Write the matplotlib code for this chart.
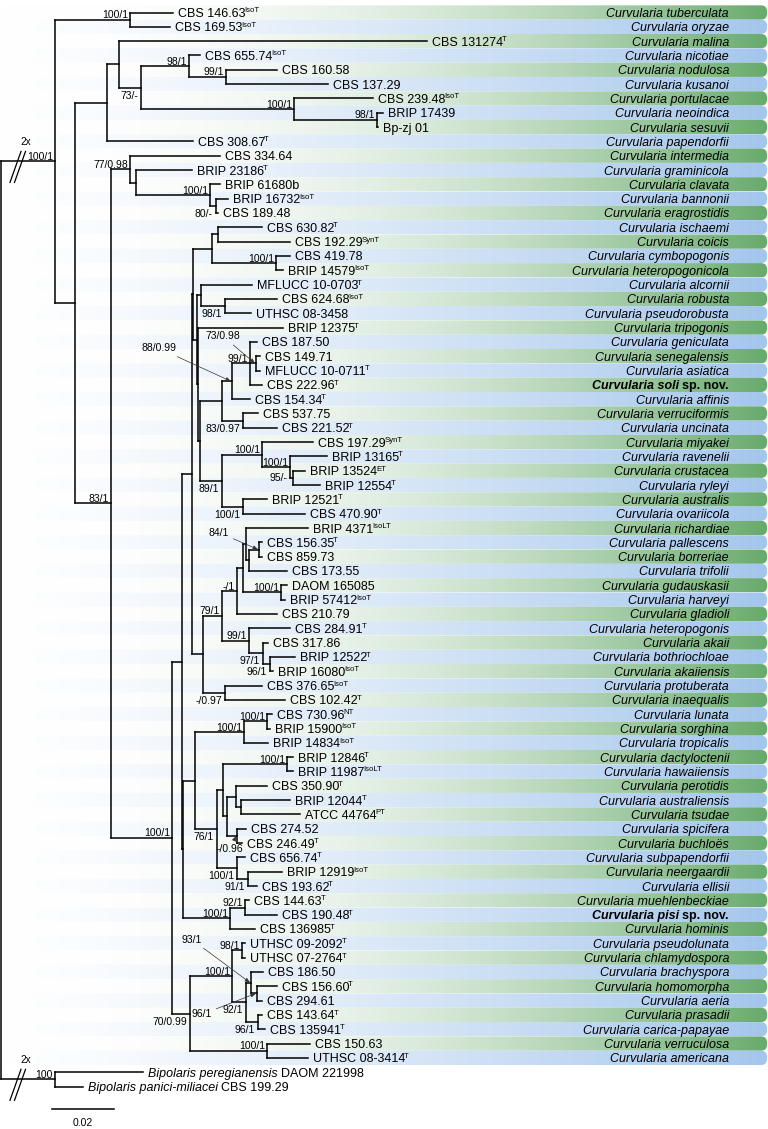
import numpy as np
import matplotlib
matplotlib.use('Agg')
import matplotlib.pyplot as plt
import matplotlib.transforms as mtransforms
from matplotlib.path import Path
from matplotlib.patches import PathPatch
from matplotlib.collections import LineCollection

plt.rcParams['font.family'] = ['Liberation Sans', 'DejaVu Sans']

W_PX, H_PX, DPI = 768, 1129, 100
ROW_PX = 14.32        # height of one taxon row in pixels
TOP_PX = 12.5         # centre of first row
PX_PER_UNIT = 3083.0  # 0.02 subst./site = 61.7 px

# ---------------- leaves, top to bottom ----------------
leaf_keys = ['tuberculata', 'oryzae', 'malina', 'nicotiae', 'nodulosa', 'kusanoi', 'portulacae',
             'neoindica', 'sesuvii', 'papendorfii', 'intermedia', 'graminicola', 'clavata', 'bannonii',
             'eragrostidis', 'ischaemi', 'coicis', 'cymbopogonis', 'heteropogonicola', 'alcornii',
             'robusta', 'pseudorobusta', 'tripogonis', 'geniculata', 'senegalensis', 'asiatica', 'soli',
             'affinis', 'verruciformis', 'uncinata', 'miyakei', 'ravenelii', 'crustacea', 'ryleyi',
             'australis', 'ovariicola', 'richardiae', 'pallescens', 'borreriae', 'trifolii',
             'gudauskasii', 'harveyi', 'gladioli', 'heteropogonis', 'akaii', 'bothriochloae',
             'akaiiensis', 'protuberata', 'inaequalis', 'lunata', 'sorghina', 'tropicalis',
             'dactyloctenii', 'hawaiiensis', 'perotidis', 'australiensis', 'tsudae', 'spicifera',
             'buchloes', 'subpapendorfii', 'neergaardii', 'ellisii', 'muehlenbeckiae', 'pisi', 'hominis',
             'pseudolunata', 'chlamydospora', 'brachyspora', 'homomorpha', 'aeria', 'prasadii',
             'carica-papayae', 'verruculosa', 'americana', 'peregianensis', 'panici-miliacei']

leaf_strain = ['CBS 146.63', 'CBS 169.53', 'CBS 131274', 'CBS 655.74', 'CBS 160.58', 'CBS 137.29',
               'CBS 239.48', 'BRIP 17439', 'Bp-zj 01', 'CBS 308.67', 'CBS 334.64', 'BRIP 23186',
               'BRIP 61680b', 'BRIP 16732', 'CBS 189.48', 'CBS 630.82', 'CBS 192.29', 'CBS 419.78',
               'BRIP 14579', 'MFLUCC 10-0703', 'CBS 624.68', 'UTHSC 08-3458', 'BRIP 12375', 'CBS 187.50',
               'CBS 149.71', 'MFLUCC 10-0711', 'CBS 222.96', 'CBS 154.34', 'CBS 537.75', 'CBS 221.52',
               'CBS 197.29', 'BRIP 13165', 'BRIP 13524', 'BRIP 12554', 'BRIP 12521', 'CBS 470.90',
               'BRIP 4371', 'CBS 156.35', 'CBS 859.73', 'CBS 173.55', 'DAOM 165085', 'BRIP 57412',
               'CBS 210.79', 'CBS 284.91', 'CBS 317.86', 'BRIP 12522', 'BRIP 16080', 'CBS 376.65',
               'CBS 102.42', 'CBS 730.96', 'BRIP 15900', 'BRIP 14834', 'BRIP 12846', 'BRIP 11987',
               'CBS 350.90', 'BRIP 12044', 'ATCC 44764', 'CBS 274.52', 'CBS 246.49', 'CBS 656.74',
               'BRIP 12919', 'CBS 193.62', 'CBS 144.63', 'CBS 190.48', 'CBS 136985', 'UTHSC 09-2092',
               'UTHSC 07-2764', 'CBS 186.50', 'CBS 156.60', 'CBS 294.61', 'CBS 143.64', 'CBS 135941',
               'CBS 150.63', 'UTHSC 08-3414', 'DAOM 221998', 'CBS 199.29']

leaf_type = ['IsoT', 'IsoT', 'T', 'IsoT', '', '', 'IsoT', '', '', 'T', '', 'T', '', 'IsoT', '', 'T',
             'SynT', '', 'IsoT', 'T', 'IsoT', '', 'T', '', '', 'T', 'T', 'T', '', 'T', 'SynT', 'T', 'ET',
             'T', 'T', 'T', 'IsoLT', 'T', '', '', '', 'IsoT', '', 'T', '', 'T', 'IsoT', 'IsoT', 'T', 'NT',
             'IsoT', 'IsoT', 'T', 'IsoLT', 'T', 'T', 'PT', '', 'T', 'T', 'IsoT', 'T', 'T', 'T', 'T', 'T',
             'T', '', 'T', '', 'T', 'T', '', 'T', '', '']

species = ['tuberculata', 'oryzae', 'malina', 'nicotiae', 'nodulosa', 'kusanoi', 'portulacae',
           'neoindica', 'sesuvii', 'papendorfii', 'intermedia', 'graminicola', 'clavata', 'bannonii',
           'eragrostidis', 'ischaemi', 'coicis', 'cymbopogonis', 'heteropogonicola', 'alcornii',
           'robusta', 'pseudorobusta', 'tripogonis', 'geniculata', 'senegalensis', 'asiatica', 'soli',
           'affinis', 'verruciformis', 'uncinata', 'miyakei', 'ravenelii', 'crustacea', 'ryleyi',
           'australis', 'ovariicola', 'richardiae', 'pallescens', 'borreriae', 'trifolii',
           'gudauskasii', 'harveyi', 'gladioli', 'heteropogonis', 'akaii', 'bothriochloae',
           'akaiiensis', 'protuberata', 'inaequalis', 'lunata', 'sorghina', 'tropicalis',
           'dactyloctenii', 'hawaiiensis', 'perotidis', 'australiensis', 'tsudae', 'spicifera',
           'buchloës', 'subpapendorfii', 'neergaardii', 'ellisii', 'muehlenbeckiae', 'pisi', 'hominis',
           'pseudolunata', 'chlamydospora', 'brachyspora', 'homomorpha', 'aeria', 'prasadii',
           'carica-papayae', 'verruculosa', 'americana']
new_species = ['soli', 'pisi']
outgroup_names = ['Bipolaris peregianensis', 'Bipolaris panici-miliacei']

# distance from root to each tip (substitutions / site)
leaf_depth = [0.0558, 0.0548, 0.1382, 0.0646, 0.0895, 0.1061, 0.1207, 0.1239, 0.1223, 0.0623,
              0.0710, 0.0620, 0.0710, 0.0736, 0.0704, 0.0847, 0.0938, 0.0938, 0.0915, 0.0814,
              0.0895, 0.0811, 0.0915, 0.0830, 0.0840, 0.0840, 0.0847, 0.0808, 0.0834, 0.0895,
              0.1012, 0.1058, 0.0986, 0.1035, 0.0863, 0.0986, 0.0996, 0.0847, 0.0847, 0.0928,
              0.0928, 0.0921, 0.0895, 0.0938, 0.0866, 0.0954, 0.0882, 0.0847, 0.0921, 0.0879,
              0.0873, 0.0866, 0.0947, 0.0947, 0.0863, 0.0938, 0.0970, 0.0795, 0.0782, 0.0792,
              0.0912, 0.0830, 0.0805, 0.0895, 0.0824, 0.0792, 0.0792, 0.0850, 0.0895, 0.0847,
              0.0847, 0.0856, 0.1002, 0.0996, 0.0461, 0.0266]

# ---------------- internal nodes ----------------
node_keys = ['root', 'crown', 'bip', 'A', 'B', 'C', 'D', 'E', 'F', 'H', 'G', 'I', 'J', 'K', 'L', 'M',
             'N', 'O', 'Pout', 'Tout', 'Tin', 'U', 'U1', 'U2', 'Wout', 'Alc', 'RP', 'Win', 'S6', 'S4',
             'S3', 'S2', 'S1', 'VU', 'S5', 'MY', 'RC', 'CR', 'AO', 'V', 'P8', 'P6', 'P5', 'P3', 'P2',
             'P1', 'P4', 'P7', 'P7b', 'P7c', 'P9', 'Pin', 'R', 'LU', 'LS', 'S', 'Sup', 'DH', 'X',
             'PAT', 'AT', 'SB', 'SP', 'NE', 'MU', 'MP', 'Q', 'Q1', 'PC', 'H3', 'H2', 'H1', 'PCP', 'VA']

node_children = [
    ['crown', 'bip'], ['A', 'B'], ['peregianensis', 'panici-miliacei'], ['tuberculata', 'oryzae'],
    ['C', 'J'], ['D', 'papendorfii'], ['malina', 'E'], ['F', 'G'], ['nicotiae', 'H'],
    ['nodulosa', 'kusanoi'], ['portulacae', 'I'], ['neoindica', 'sesuvii'], ['K', 'O'],
    ['intermedia', 'L'], ['graminicola', 'M'], ['clavata', 'N'], ['bannonii', 'eragrostidis'],
    ['Pout', 'Q'], ['Tout', 'Pin'], ['Tin', 'V'], ['U', 'Wout'], ['U1', 'U2'], ['ischaemi', 'coicis'],
    ['cymbopogonis', 'heteropogonicola'], ['Alc', 'Win'], ['alcornii', 'RP'],
    ['robusta', 'pseudorobusta'], ['tripogonis', 'S6'], ['S4', 'S5'], ['S3', 'VU'],
    ['S2', 'affinis'], ['geniculata', 'S1', 'soli'], ['senegalensis', 'asiatica'],
    ['verruciformis', 'uncinata'], ['MY', 'AO'], ['miyakei', 'RC'], ['ravenelii', 'CR'],
    ['crustacea', 'ryleyi'], ['australis', 'ovariicola'], ['P8', 'P9'], ['P6', 'P7'],
    ['P5', 'gladioli'], ['P3', 'P4'], ['richardiae', 'P2'], ['P1', 'trifolii'],
    ['pallescens', 'borreriae'], ['gudauskasii', 'harveyi'], ['heteropogonis', 'P7b'],
    ['akaii', 'P7c'], ['bothriochloae', 'akaiiensis'], ['protuberata', 'inaequalis'], ['R', 'MU'],
    ['LU', 'S'], ['LS', 'tropicalis'], ['lunata', 'sorghina'], ['Sup', 'SP'], ['DH', 'X'],
    ['dactyloctenii', 'hawaiiensis'], ['PAT', 'SB'], ['perotidis', 'AT'], ['australiensis', 'tsudae'],
    ['spicifera', 'buchloes'], ['subpapendorfii', 'NE'], ['neergaardii', 'ellisii'],
    ['MP', 'hominis'], ['muehlenbeckiae', 'pisi'], ['Q1', 'VA'], ['PC', 'H3'],
    ['pseudolunata', 'chlamydospora'], ['H2', 'PCP'], ['brachyspora', 'H1'], ['homomorpha', 'aeria'],
    ['prasadii', 'carica-papayae'], ['verruculosa', 'americana']]

node_depth = [0.0, 0.0175, 0.0175, 0.0418, 0.0240, 0.0344, 0.0383, 0.0454, 0.0610, 0.0730, 0.0950,
              0.1220, 0.0357, 0.0418, 0.0438, 0.0678, 0.0697, 0.0555, 0.0587, 0.0620, 0.0623, 0.0684,
              0.0704, 0.0892, 0.0636, 0.0649, 0.0727, 0.0639, 0.0646, 0.0717, 0.0749, 0.0808, 0.0827,
              0.0785, 0.0717, 0.0847, 0.0938, 0.0947, 0.0785, 0.0655, 0.0717, 0.0766, 0.0785, 0.0795,
              0.0805, 0.0837, 0.0908, 0.0805, 0.0850, 0.0873, 0.0727, 0.0589, 0.0629, 0.0788, 0.0863,
              0.0701, 0.0720, 0.0928, 0.0733, 0.0762, 0.0779, 0.0766, 0.0766, 0.0801, 0.0743, 0.0792,
              0.0613, 0.0749, 0.0782, 0.0795, 0.0811, 0.0830, 0.0834, 0.0863]

support = {'crown': '100/1', 'bip': '100', 'A': '100/1', 'E': '73/-', 'F': '98/1', 'H': '99/1',
           'G': '100/1', 'I': '98/1', 'J': '83/1', 'K': '77/0.98', 'M': '100/1', 'N': '80/-',
           'O': '100/1', 'U2': '100/1', 'RP': '98/1', 'S3': '88/0.99', 'S2': '99/1', 'S1': '73/0.98',
           'VU': '83/0.97', 'S5': '89/1', 'MY': '100/1', 'RC': '100/1', 'CR': '95/-', 'AO': '100/1',
           'P8': '79/1', 'P6': '-/1', 'P1': '84/1', 'P4': '100/1', 'P7': '99/1', 'P7b': '97/1',
           'P7c': '96/1', 'P9': '-/0.97', 'LU': '100/1', 'LS': '100/1', 'S': '76/1', 'DH': '100/1',
           'SB': '-/0.96', 'SP': '100/1', 'NE': '91/1', 'MU': '100/1', 'MP': '92/1', 'Q': '70/0.99',
           'Q1': '100/1', 'PC': '98/1', 'H3': '92/1', 'H2': '93/1', 'H1': '96/1', 'PCP': '96/1',
           'VA': '100/1'}

# ---------------- label placement (style) ----------------
below = ['E', 'N', 'RP', 'VU', 'S5', 'AO', 'P7b', 'P7c', 'P9', 'S', 'SP', 'NE', 'H3', 'Q', 'PCP']
beside = ['CR']
arrowed = {'S3': (-72, 33), 'S1': (-32, 27), 'P1': (-39, 17), 'H2': (-58, 43),
           'H1': (-54, -21), 'SB': (-6, -13)}   # label offset from node, px

STRAIN_FS, SUPER_FS, SUPPORT_FS = 9, 5.6, 7.5
LW = 1.1

fig = plt.figure(figsize=(W_PX / DPI, H_PX / DPI), dpi=DPI)
ax = fig.add_axes([0, 0, 1, 1])
ax.axis('off')
x0 = -1 / PX_PER_UNIT
x1 = x0 + W_PX / PX_PER_UNIT
y0 = -TOP_PX / ROW_PX
y1 = y0 + H_PX / ROW_PX


def dx(px):
    return px / PX_PER_UNIT


def dy(px):
    return px / ROW_PX


# ---------------- tree layout ----------------
depth = dict(zip(leaf_keys, leaf_depth))
depth.update(zip(node_keys, node_depth))
kids = dict(zip(node_keys, node_children))
ypos = {k: i for i, k in enumerate(leaf_keys)}


def place(k):
    if k not in ypos:
        ys = [place(c) for c in kids[k]]
        ypos[k] = (min(ys) + max(ys)) / 2
    return ypos[k]


place('root')

# ---------------- background bands ----------------
n_band = len(species)
band_right = x0 + dx(767)
g = np.linspace(0, 1, 300)


def ramp(end, power):
    f = (g ** power)[:, None]
    return ((1 - f) + f * np.array(end) / 255.0)[None]


green = ramp([104, 170, 108], 2.3)
blue = ramp([164, 198, 236], 1.3)
rx, ry = dx(6), dy(6)
for i in range(n_band):
    top, bot = i - 0.5, i + 0.5
    verts = [(x0, top), (band_right - rx, top), (band_right, top), (band_right, top + ry),
             (band_right, bot - ry), (band_right, bot), (band_right - rx, bot), (x0, bot), (x0, top)]
    codes = [Path.MOVETO, Path.LINETO, Path.CURVE3, Path.CURVE3, Path.LINETO,
             Path.CURVE3, Path.CURVE3, Path.LINETO, Path.CLOSEPOLY]
    clip = PathPatch(Path(verts, codes), fc='none', ec='none')
    ax.add_patch(clip)
    im = ax.imshow(green if i % 2 == 0 else blue, extent=[x0, band_right, bot, top],
                   aspect='auto', zorder=0, interpolation='bilinear')
    im.set_clip_path(clip)

# ---------------- branches ----------------
segs = []
for k in node_keys:
    ys = [ypos[c] for c in kids[k]]
    segs.append([(depth[k], min(ys)), (depth[k], max(ys))])
    for c in kids[k]:
        segs.append([(depth[k], ypos[c]), (depth[c], ypos[c])])
ax.add_collection(LineCollection(segs, colors='k', linewidths=LW, zorder=2, capstyle='projecting'))

ax.set_xlim(x0, x1)
ax.set_ylim(y1, y0)

renderer = fig.canvas.get_renderer()


def runs_text(x, y, runs, ha='left', shift=0.0, base=-4.5):
    """runs: (text, kwargs, lift_px, gap_after_px) drawn side by side"""
    off = shift
    if ha == 'left':
        for s, kw, lift, gap in runs:
            tr = mtransforms.offset_copy(ax.transData, fig=fig, x=off, y=base + lift, units='dots')
            t = ax.text(x, y, s, transform=tr, ha='left', va='baseline', zorder=3, **kw)
            off += t.get_window_extent(renderer).width + gap
    else:
        for s, kw, lift, gap in runs[::-1]:
            off += gap
            tr = mtransforms.offset_copy(ax.transData, fig=fig, x=-off, y=base + lift, units='dots')
            t = ax.text(x, y, s, transform=tr, ha='right', va='baseline', zorder=3, **kw)
            off += t.get_window_extent(renderer).width


norm = dict(fontsize=STRAIN_FS)
ital = dict(fontsize=STRAIN_FS, style='italic')
sup = dict(fontsize=SUPER_FS)

# strain labels
for i, k in enumerate(leaf_keys):
    if i < n_band:
        runs = [(leaf_strain[i], norm, 0, -1.2)]
        if leaf_type[i]:
            runs.append((leaf_type[i], sup, 4.5, 0))
    else:
        runs = [(outgroup_names[i - n_band], ital, 0, 3.2), (leaf_strain[i], norm, 0, 0)]
    runs_text(depth[k], ypos[k], runs, shift=5)

# species labels
name_x = x0 + dx(729)
for i, sp in enumerate(species):
    if sp in new_species:
        runs = [('Curvularia ' + sp, dict(fontsize=STRAIN_FS, style='italic', weight='bold'), 0, 3.4),
                ('sp. nov.', dict(fontsize=STRAIN_FS, weight='bold'), 0, 0)]
    else:
        runs = [('Curvularia ' + sp, ital, 0, 0)]
    runs_text(name_x, i, runs, ha='right')

# support values
for k, s in support.items():
    x, y = depth[k], ypos[k]
    if k in arrowed:
        ox, oy = arrowed[k]
        ax.annotate(s, xy=(x - dx(1), y), xytext=(ox, oy), textcoords='offset pixels',
                    fontsize=SUPPORT_FS, ha='center', va='center', zorder=3,
                    arrowprops=dict(arrowstyle='-|>,head_length=0.5,head_width=0.2', color='#333333',
                                    lw=0.5, shrinkA=1, shrinkB=0, mutation_scale=6))
    elif k in below:
        ax.annotate(s, xy=(x, y), xytext=(-3, -3), textcoords='offset pixels',
                    fontsize=SUPPORT_FS, ha='right', va='top', zorder=3)
    elif k in beside:
        ax.annotate(s, xy=(x, y), xytext=(-5, 0), textcoords='offset pixels',
                    fontsize=SUPPORT_FS, ha='right', va='center', zorder=3)
    else:
        ax.annotate(s, xy=(x, y), xytext=(-2, 1.5), textcoords='offset pixels',
                    fontsize=SUPPORT_FS, ha='right', va='baseline', zorder=3)

# "2x" break marks on the two long root branches
for k in ['crown', 'bip']:
    yb = ypos[k]
    for off in [0.0, 4.5]:
        ax.plot([dx(9 + off), dx(20 + off)], [yb + dy(21), yb - dy(10)], color='k', lw=0.9, zorder=3)
    ax.annotate('2x', xy=(0, yb), xytext=(25, 19), textcoords='offset pixels',
                fontsize=7.2, ha='center', va='center', zorder=3)

# scale bar
sb_x = x0 + dx(52)
sb_y = y0 + dy(1109)
ax.plot([sb_x, sb_x + 0.02], [sb_y, sb_y], color='k', lw=LW)
ax.text(sb_x + 0.01, y0 + dy(1123), '0.02', fontsize=7.5, ha='center', va='center')

fig.savefig('out.png', dpi=DPI)
